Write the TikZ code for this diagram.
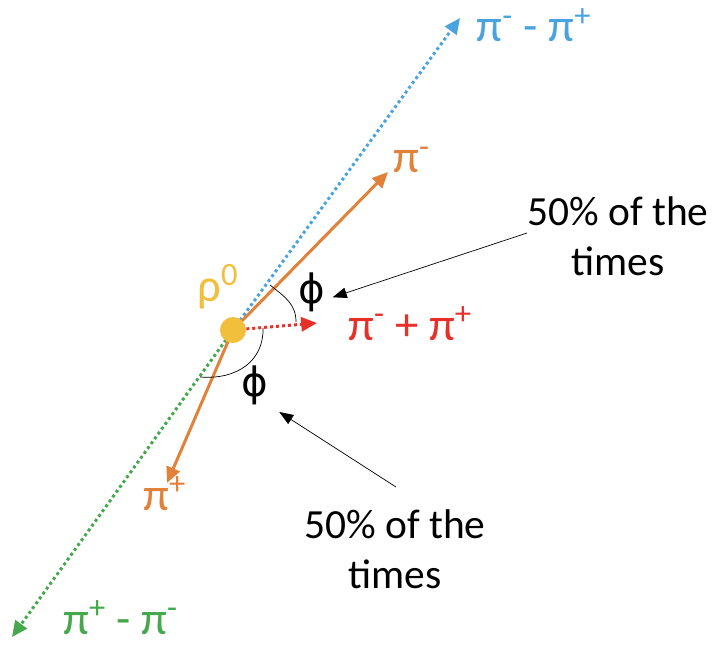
\documentclass[tikz,border=0pt]{standalone}
\usepackage{fontspec}
\setmainfont{Carlito}
\newfontfamily\phifont{DejaVu Sans}
\usepackage{tikz}
\usetikzlibrary{arrows.meta}

\definecolor{pimblue}{HTML}{4AA3DF}
\definecolor{piorange}{HTML}{E2823A}
\definecolor{pired}{HTML}{E8302A}
\definecolor{pigreen}{HTML}{46A84C}
\definecolor{rhogold}{HTML}{F2BF3C}

\begin{document}
\begin{tikzpicture}[x=0.02cm, y=-0.02cm,
    lbl/.style={font=\fontsize{23.6}{28.2}\selectfont, inner sep=0pt},
    greek/.style={font=\fontsize{26.5}{30}\selectfont, inner sep=0pt},
    anglbl/.style={font=\phifont\fontsize{23}{27}\selectfont, inner sep=0pt},
    dots/.style={line width=1.7pt, dash pattern=on 1.7pt off 1.7pt},
    tip/.style={-{Triangle[length=9pt, width=8pt]}},
    track/.style={line width=1.7pt, piorange, tip}]
\useasboundingbox (0,0) rectangle (715,645);

% the decay point and the ends of the axes
\node[circle, inner sep=0pt, minimum size=0.52cm] (rho) at (233,330) {};
\coordinate (dirup) at (460,18);
\coordinate (dirdown) at (12,637);
\coordinate (piminus) at (388,172);
\coordinate (piplus) at (167,483);
\coordinate (sum) at (317,323);

% dotted axes
\draw[dots, pimblue, tip] (rho.center) -- (dirup);
\draw[dots, pigreen, tip] (rho.center) -- (dirdown);
\draw[dots, pired, tip] (rho) -- (sum);

% the two pions
\draw[track] (rho.center) -- (piminus);
\draw[track] (rho.center) -- (piplus);

% angles
\draw[thin] (270,285) .. controls (285,297) and (296,304) .. (296,322);
\draw[thin] (263,328) .. controls (264,360) and (238,380) .. (200,377);

\fill[rhogold] (rho) circle (13);

% labels
\node[greek, pimblue, anchor=base] (lup) at (534,42) {π\textsuperscript{-} - π\textsuperscript{+}};
\node[greek, piorange, anchor=base west] (lpim) at (393,173) {π\textsuperscript{-}};
\node[greek, pired, anchor=base west] (lsum) at (348,340) {π\textsuperscript{-} + π\textsuperscript{+}};
\node[greek, rhogold, anchor=base west] (lrho) at (197,301) {ρ\textsuperscript{0}};
\node[anglbl] (phiup) at (312,292) {ϕ};
\node[anglbl] (phidown) at (255,385) {ϕ};
\node[greek, piorange, anchor=base west] (lpip) at (143,510) {π\textsuperscript{+}};
\node[greek, pigreen, anchor=base west] (ldown) at (63,634) {π\textsuperscript{+} - π\textsuperscript{-}};

\node[lbl, align=center] (half1) at (618,236) {50\% of the\\times};
\node[lbl, align=center] (half2) at (395,549) {50\% of the\\times};

\draw[thin, -{Triangle[length=8pt, width=6pt]}] (half1.west |- 0,233) -- ([xshift=4pt, yshift=-3pt]phiup.east);
\draw[thin, -{Triangle[length=8pt, width=6pt]}] (396,487) -- ([xshift=6pt, yshift=-4pt]phidown.south east);
\end{tikzpicture}
\end{document}
